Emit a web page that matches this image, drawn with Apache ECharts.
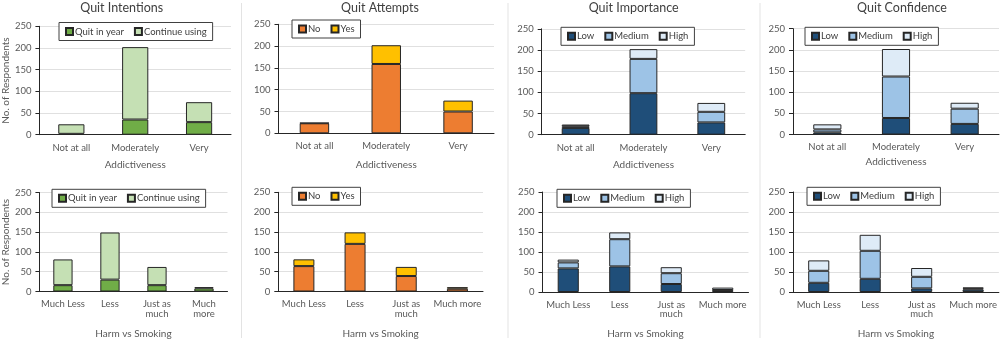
<!DOCTYPE html>
<html>
<head>
<meta charset="utf-8">
<script src="https://cdn.jsdelivr.net/npm/echarts@6/dist/echarts.min.js"></script>
<style>
  html, body { margin: 0; padding: 0; background: #ffffff; }
  #chart { width: 1000px; height: 341px; }
</style>
</head>
<body>
<div id="chart"></div>
<script>
// ---- categories ----
const addictCats = ['Not at all', 'Moderately', 'Very'];
const harmCats = ['Much Less', 'Less', 'Just as much', 'Much more'];

// ---- value axis ticks ----
const yTicks = [0, 50, 100, 150, 200, 250];

// ---- Addictiveness row ----
const intentAddQuit = [2, 35, 29];
const intentAddCont = [22, 167, 46];
const attemptAddNo = [23, 159, 50];
const attemptAddYes = [1, 43, 25];
const importAddLow = [16, 98, 29];
const importAddMed = [4, 81, 25];
const importAddHigh = [4, 23, 21];
const confAddLow = [5, 39, 25];
const confAddMed = [7, 98, 36];
const confAddHigh = [12, 65, 14];

// ---- Harm vs Smoking row ----
const intentHarmQuit = [16, 30, 16, 8];
const intentHarmCont = [65, 119, 46, 3];
const attemptHarmNo = [64, 120, 39, 7];
const attemptHarmYes = [17, 29, 23, 4];
const importHarmLow = [59, 64, 20, 4];
const importHarmMed = [15, 68, 27, 1];
const importHarmHigh = [7, 17, 15, 6];
const confHarmLow = [23, 33, 9, 6];
const confHarmMed = [30, 70, 29, 3];
const confHarmHigh = [26, 40, 22, 2];

// ---- titles ----
const panelTitles = ['Quit Intentions', 'Quit Attempts', 'Quit Importance', 'Quit Confidence'];

// ---- styling ----
const FONT = 'Lato, "Open Sans", sans-serif';
const TXT = '#595959';
const C = {
  quit: '#70AD47', cont: '#C5E0B4',
  no: '#ED7D31', yes: '#FFC000',
  low: '#1F4E79', med: '#9DC3E6', high: '#DEEBF7'
};

function wrapper(breakMore) {
  return function (v) {
    if (v === 'Just as much') return 'Just as\nmuch';
    if (breakMore && v === 'Much more') return 'Much\nmore';
    return v;
  };
}

// panel layout: plot rectangle, category set, stacked series, legend spot
const panels = [
  { rect: [38, 26.3, 193, 108.4], cats: addictCats, xName: 'Addictiveness', xGap: 25, yName: true,
    legend: { left: 59, top: 22.5 },
    series: [['Quit in year', intentAddQuit, C.quit], ['Continue using', intentAddCont, C.cont]] },
  { rect: [278.5, 24.3, 215.5, 109], cats: addictCats, xName: 'Addictiveness', xGap: 26,
    legend: { left: 292, top: 20 },
    series: [['No', attemptAddNo, C.no], ['Yes', attemptAddYes, C.yes]] },
  { rect: [541.7, 28.8, 203.5, 105.9], cats: addictCats, xName: 'Addictiveness', xGap: 25,
    legend: { left: 561, top: 27.3 },
    series: [['Low', importAddLow, C.low], ['Medium', importAddMed, C.med], ['High', importAddHigh, C.high]] },
  { rect: [793, 28.7, 206, 105.8], cats: addictCats, xName: 'Addictiveness', xGap: 22,
    legend: { left: 805, top: 27.3 },
    series: [['Low', confAddLow, C.low], ['Medium', confAddMed, C.med], ['High', confAddHigh, C.high]] },

  { rect: [38.5, 192.5, 189, 99], cats: harmCats, xName: 'Harm vs Smoking', xGap: 37, yName: true, breakMore: true,
    legend: { left: 52, top: 189.3 },
    series: [['Quit in year', intentHarmQuit, C.quit], ['Continue using', intentHarmCont, C.cont]] },
  { rect: [278.3, 192.3, 204.7, 99.2], cats: harmCats, xName: 'Harm vs Smoking', xGap: 37,
    legend: { left: 292, top: 187.3 },
    series: [['No', attemptHarmNo, C.no], ['Yes', attemptHarmYes, C.yes]] },
  { rect: [542.5, 192, 206, 100], cats: harmCats, xName: 'Harm vs Smoking', xGap: 37,
    legend: { left: 557, top: 189.3 },
    series: [['Low', importHarmLow, C.low], ['Medium', importHarmMed, C.med], ['High', importHarmHigh, C.high]] },
  { rect: [793, 192, 206, 100], cats: harmCats, xName: 'Harm vs Smoking', xGap: 37,
    legend: { left: 807, top: 187.3 },
    series: [['Low', confHarmLow, C.low], ['Medium', confHarmMed, C.med], ['High', confHarmHigh, C.high]] }
];

const titleCenters = [121.7, 380, 633.7, 902];

const option = {
  animation: false,
  backgroundColor: '#ffffff',
  textStyle: { fontFamily: FONT },
  title: panelTitles.map((t, i) => ({
    text: t, left: titleCenters[i], top: 1, padding: 0, textAlign: 'center',
    textStyle: { fontFamily: FONT, fontSize: 12.5, fontWeight: 'normal', color: '#404040' }
  })),
  grid: [], xAxis: [], yAxis: [], legend: [], series: [],
  graphic: [241.5, 508, 760].map(x => ({
    type: 'line', shape: { x1: x, y1: 3, x2: x, y2: 338 },
    style: { stroke: '#e3e3e3', lineWidth: 1 }, silent: true
  }))
};

panels.forEach((p, i) => {
  const [l, t, w, h] = p.rect;
  option.grid.push({ left: l, top: t, width: w, height: h, containLabel: false });
  option.xAxis.push({
    type: 'category', gridIndex: i, data: p.cats,
    name: p.xName, nameLocation: 'middle', nameGap: p.xGap,
    nameTextStyle: { fontFamily: FONT, fontSize: 10, color: TXT },
    axisLine: { lineStyle: { color: '#262626', width: 1 } },
    axisTick: { show: false },
    axisLabel: { interval: 0, margin: 8, fontFamily: FONT, fontSize: 9.5, color: TXT, lineHeight: 9.5,
      formatter: wrapper(!!p.breakMore) }
  });
  option.yAxis.push({
    type: 'value', gridIndex: i, min: yTicks[0], max: yTicks[yTicks.length - 1],
    interval: yTicks[1] - yTicks[0],
    name: p.yName ? 'No. of Respondents' : '', nameLocation: 'middle', nameGap: 24,
    nameTextStyle: { fontFamily: FONT, fontSize: 10, color: TXT },
    axisLine: { show: true, lineStyle: { color: '#262626', width: 1 } },
    axisTick: { show: true, length: 4, lineStyle: { color: '#262626' } },
    axisLabel: { margin: 8, fontFamily: FONT, fontSize: 9.5, color: TXT },
    splitLine: { lineStyle: { color: '#e0e0e0', width: 1 } }
  });
  option.legend.push({
    left: p.legend.left, top: p.legend.top, orient: 'horizontal',
    data: p.series.map(s => s[0]),
    icon: 'rect', itemWidth: 7, itemHeight: 7, itemGap: 10,
    padding: [4, 6, 4, 6],
    borderColor: '#404040', borderWidth: 1, backgroundColor: '#ffffff',
    textStyle: { fontFamily: FONT, fontSize: 9.5, color: '#404040', padding: [0, 0, 0, -3] },
    selectedMode: false
  });
  p.series.forEach(s => {
    option.series.push({
      type: 'bar', name: s[0], data: s[1], stack: 'p' + i,
      xAxisIndex: i, yAxisIndex: i, barWidth: '41%',
      itemStyle: { color: s[2], borderColor: '#262626', borderWidth: 1 }
    });
  });
});

const chart = echarts.init(document.getElementById('chart'), null, { renderer: 'canvas' });
chart.setOption(option);
</script>
</body>
</html>
